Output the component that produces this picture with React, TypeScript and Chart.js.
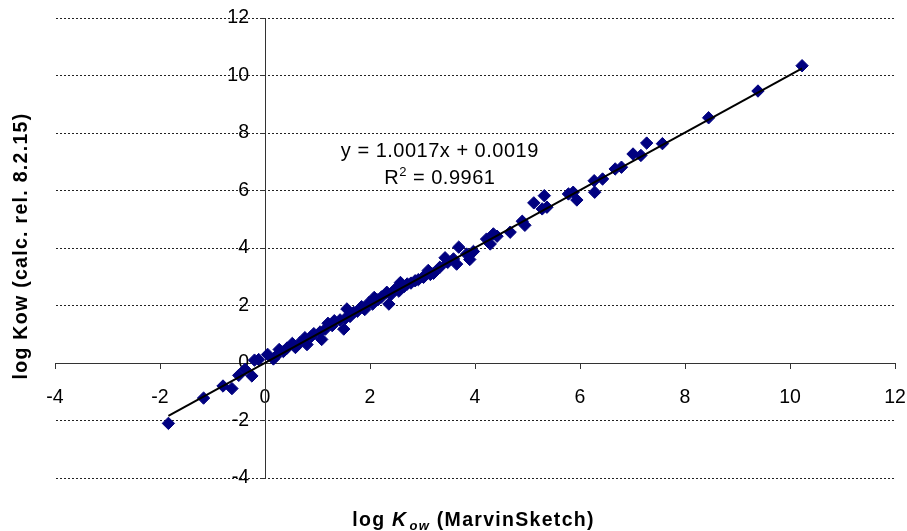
import React, { useEffect, useRef } from "react";
import { Chart, registerables } from "chart.js";

Chart.register(...registerables);

// log Kow (MarvinSketch) – x values
const marvinLogKow = [
  -1.84, -1.17, -0.8, -0.63, -0.5, -0.38, -0.25, -0.2, -0.12,
  0.05, 0.16, 0.2, 0.27, 0.35, 0.42, 0.52, 0.58, 0.66, 0.76, 0.8, 0.88, 0.93, 1.05, 1.08, 1.15,
  1.2, 1.28, 1.32, 1.43, 1.5, 1.53, 1.56, 1.62, 1.69, 1.76, 1.84, 1.9, 1.98,
  2.05, 2.08, 2.15, 2.22, 2.32, 2.36, 2.4, 2.48, 2.55, 2.58, 2.65, 2.71, 2.78, 2.86, 2.92, 3.02, 3.06,
  3.11, 3.15, 3.21, 3.33, 3.43, 3.48, 3.59, 3.65, 3.69, 3.84, 3.9, 3.97,
  4.22, 4.29, 4.35, 4.42, 4.67, 4.9, 4.95, 5.12, 5.28, 5.32, 5.37, 5.78, 5.87, 5.94,
  6.27, 6.28, 6.43, 6.67, 6.79, 7.01, 7.16, 7.27, 7.57, 8.45, 9.39, 10.23,
];

// log Kow (calc. rel. 8.2.15) – y values
const calcLogKow = [
  -2.1, -1.22, -0.8, -0.89, -0.43, -0.22, -0.45, 0.1, 0.12,
  0.3, 0.14, 0.22, 0.47, 0.4, 0.52, 0.68, 0.54, 0.7, 0.88, 0.64, 0.92, 1.02, 1.08, 0.82, 1.18,
  1.38, 1.3, 1.47, 1.5, 1.18, 1.55, 1.88, 1.62, 1.76, 1.8, 1.96, 1.86, 2.1,
  2.05, 2.28, 2.2, 2.3, 2.46, 2.05, 2.38, 2.57, 2.5, 2.8, 2.66, 2.75, 2.78, 2.86, 2.9, 2.98, 3.08,
  3.22, 3.08, 3.12, 3.33, 3.66, 3.5, 3.62, 3.44, 4.03, 3.79, 3.6, 3.88,
  4.31, 4.14, 4.49, 4.41, 4.55, 4.93, 4.79, 5.57, 5.36, 5.82, 5.42, 5.88, 5.94, 5.67,
  6.34, 5.94, 6.4, 6.75, 6.81, 7.27, 7.22, 7.65, 7.63, 8.53, 9.46, 10.34,
];

const trendSlope = 1.0017;
const trendIntercept = 0.0019;
const equationLabel = "y = 1.0017x + 0.0019";
const r2Value = "0.9961";
const axisTickValues = [-4, -2, 0, 2, 4, 6, 8, 10, 12];
const xTitleParts = ["log ", "K", "ow", " (MarvinSketch)"];
const yTitle = "log Kow (calc. rel. 8.2.15)";

const FONT = 'Arial, "Liberation Sans", Helvetica, sans-serif';

// Moves the y axis so that it crosses the x axis at x = 0 (Excel style)
const crossAxisPlugin = {
  id: "crossAxis",
  afterLayout(chart: any) {
    const ys = chart.scales.y;
    const px = chart.scales.x.getPixelForValue(0);
    ys.right = px;
    ys.left = px - 60;
    ys.width = 60;
    ys._gridLineItems = null;
    ys._labelItems = null;
  },
};

const textPlugin = {
  id: "textAnnotations",
  afterDraw(chart: any) {
    const ctx: CanvasRenderingContext2D = chart.ctx;
    const xs = chart.scales.x;
    const ys = chart.scales.y;
    const area = chart.chartArea;
    ctx.save();
    ctx.fillStyle = "#000";
    ctx.textBaseline = "alphabetic";

    // regression equation
    (ctx as any).letterSpacing = "0.5px";
    ctx.font = `20px ${FONT}`;
    ctx.textAlign = "center";
    const eqX = xs.getPixelForValue(3.33);
    ctx.fillText(equationLabel, eqX, ys.getPixelForValue(7.17));

    // R² line
    ctx.textAlign = "left";
    const rBase = ys.getPixelForValue(6.23);
    const wR = ctx.measureText("R").width;
    const rest = " = " + r2Value;
    const wRest = ctx.measureText(rest).width;
    ctx.font = `13px ${FONT}`;
    const wSup = ctx.measureText("2").width;
    const total = wR + wSup + wRest;
    let cx = eqX - total / 2;
    ctx.font = `20px ${FONT}`;
    ctx.fillText("R", cx, rBase);
    cx += wR;
    ctx.font = `13px ${FONT}`;
    ctx.fillText("2", cx, rBase - 8);
    cx += wSup;
    ctx.font = `20px ${FONT}`;
    ctx.fillText(rest, cx, rBase);

    // x axis title
    (ctx as any).letterSpacing = "1.3px";
    const big = `bold 19.5px ${FONT}`;
    const bigIt = `italic bold 19.5px ${FONT}`;
    const subIt = `italic bold 13px ${FONT}`;
    const fonts = [big, bigIt, subIt, big];
    const widths = xTitleParts.map((p, i) => {
      ctx.font = fonts[i];
      return ctx.measureText(p).width;
    });
    const gap = 2;
    const tw = widths.reduce((a, b) => a + b, 0) + gap;
    let tx = (area.left + area.right) / 2 - 1.5 - tw / 2;
    const tBase = chart.height - 5.5;
    xTitleParts.forEach((p, i) => {
      ctx.font = fonts[i];
      const dy = i === 2 ? 4 : 0;
      if (i === 2) tx += gap;
      ctx.fillText(p, tx, tBase + dy);
      tx += widths[i];
    });

    // y axis title
    ctx.font = big;
    ctx.textAlign = "center";
    ctx.translate(27, (area.top + area.bottom) / 2 - 2);
    ctx.rotate(-Math.PI / 2);
    ctx.fillText(yTitle, 0, 0);
    ctx.restore();
  },
};

export default function App() {
  const ref = useRef<HTMLCanvasElement | null>(null);

  useEffect(() => {
    if (!ref.current) return;
    const points = marvinLogKow.map((x, i) => ({ x, y: calcLogKow[i] }));
    const xMin = Math.min(...marvinLogKow);
    const xMax = Math.max(...marvinLogKow);
    const trend = [
      { x: xMin, y: trendSlope * xMin + trendIntercept },
      { x: xMax, y: trendSlope * xMax + trendIntercept },
    ];
    const tickFont = { family: FONT, size: 19.5 };
    const setTicks = (s: any) => {
      s.ticks = axisTickValues.map((v) => ({ value: v }));
    };
    const chart = new Chart(ref.current, {
      type: "scatter",
      data: {
        datasets: [
          {
            label: "Linear trend",
            data: trend,
            showLine: true,
            borderColor: "#000",
            borderWidth: 2,
            pointRadius: 0,
            fill: false,
          } as any,
          {
            label: "log Kow",
            data: points,
            pointStyle: "rectRot",
            pointRadius: 6.2,
            backgroundColor: "#000080",
            borderColor: "#000080",
            borderWidth: 1,
          },
        ],
      },
      options: {
        animation: false,
        responsive: false,
        layout: { padding: { left: 55, right: 12, top: 18, bottom: 53 } },
        plugins: { legend: { display: false }, tooltip: { enabled: false } },
        scales: {
          x: {
            type: "linear",
            min: -4,
            max: 12,
            position: { y: 0 } as any,
            afterBuildTicks: setTicks,
            afterFit: (s: any) => {
              s.paddingLeft = 0;
              s.paddingRight = 0;
              s.paddingTop = 0;
              s.paddingBottom = 0;
            },
            ticks: {
              font: tickFont,
              color: "#000",
              padding: 18,
              maxRotation: 0,
              autoSkip: false,
            },
            grid: {
              drawOnChartArea: false,
              drawTicks: true,
              tickLength: 5,
              tickColor: "#333",
            },
            border: { display: true, color: "#333", width: 1 },
          },
          y: {
            type: "linear",
            min: -4,
            max: 12,
            position: "left",
            afterBuildTicks: setTicks,
            afterFit: (s: any) => {
              s.width = 0;
              s.paddingLeft = 0;
              s.paddingRight = 0;
              s.paddingTop = 0;
              s.paddingBottom = 0;
            },
            ticks: { font: tickFont, color: "#000", padding: 11, autoSkip: false },
            grid: {
              color: "#222",
              lineWidth: 1,
              tickLength: 5,
              tickColor: "#333",
              tickBorderDash: [],
            } as any,
            border: { display: true, color: "#333", width: 1, dash: [2, 2] },
          },
        },
      },
      plugins: [crossAxisPlugin, textPlugin],
    });
    return () => chart.destroy();
  }, []);

  return (
    <div style={{ position: "fixed", left: 0, top: 0, width: 907, height: 531, background: "#fff" }}>
      <canvas ref={ref} width={907} height={531} style={{ display: "block" }} />
    </div>
  );
}
